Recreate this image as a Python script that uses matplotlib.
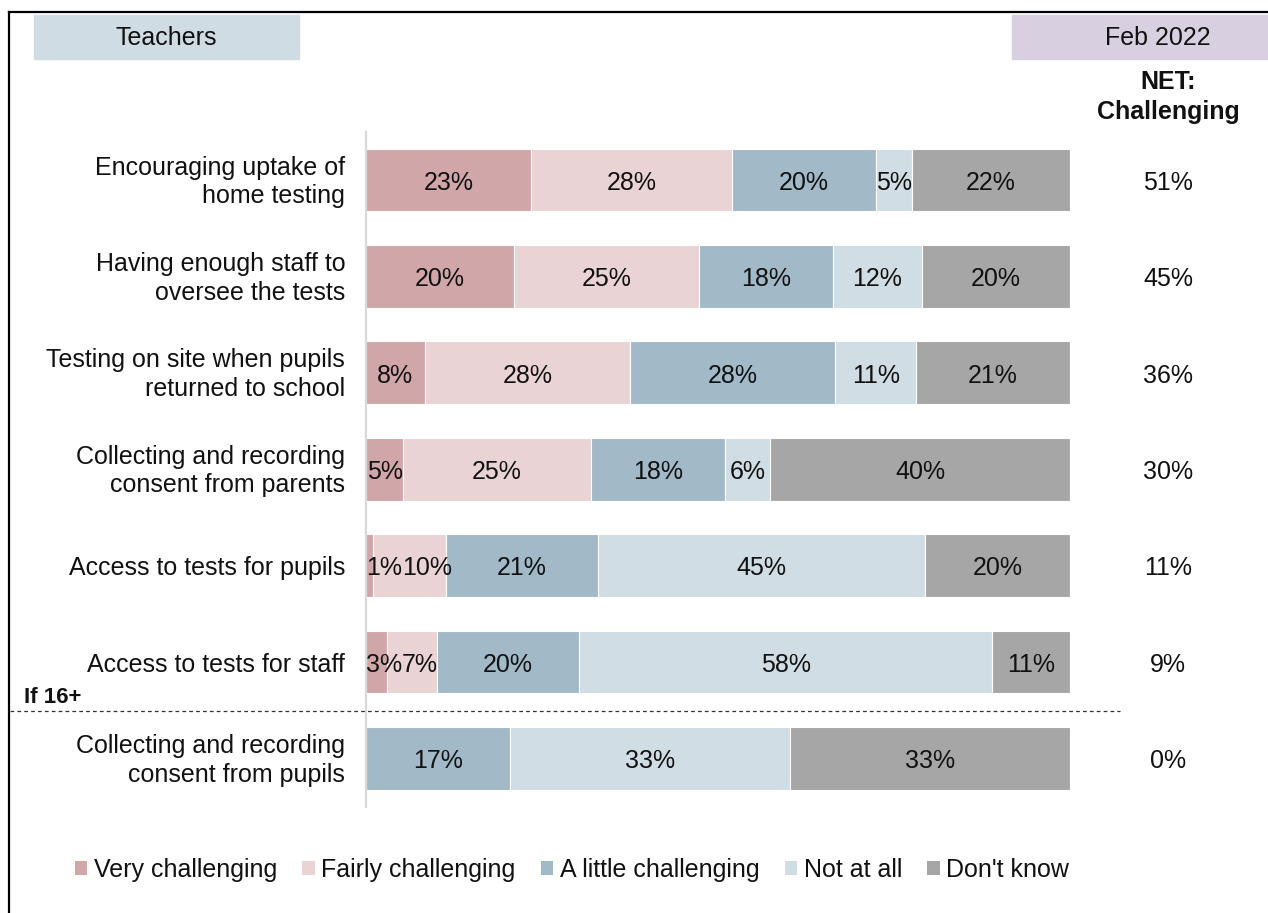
import numpy as np
import matplotlib.pyplot as plt
from matplotlib.patches import Rectangle, Patch
from matplotlib.lines import Line2D
from matplotlib.transforms import blended_transform_factory, ScaledTranslation

plt.rcParams['font.family'] = ['Liberation Sans', 'DejaVu Sans']

# data
questions = ["Encouraging uptake of\nhome testing",
             "Having enough staff to\noversee the tests",
             "Testing on site when pupils\nreturned to school",
             "Collecting and recording\nconsent from parents",
             "Access to tests for pupils",
             "Access to tests for staff",
             "Collecting and recording\nconsent from pupils"]
series = ["Very challenging", "Fairly challenging", "A little challenging",
          "Not at all", "Don't know"]
very_ch   = [23, 20, 8, 5, 1, 3, 0]
fairly_ch = [28, 25, 28, 25, 10, 7, 0]
little_ch = [20, 18, 28, 18, 21, 20, 17]
not_at_all = [5, 12, 11, 6, 45, 58, 33]
dont_know = [22, 20, 21, 40, 20, 11, 33]
net_challenging = [51, 45, 36, 30, 11, 9, 0]

colors = ['#D0A6A8', '#E9D3D5', '#A2B9C8', '#D0DDE4', '#A6A6A6']
txt_col = '#111111'

W, H = 1268, 913
fig = plt.figure(figsize=(W/100, H/100), dpi=100)

# bar area
ax = fig.add_axes([366/W, 1-806.6/H, 704/W, (806.6-131.8)/H])

vals = np.array([very_ch, fairly_ch, little_ch, not_at_all, dont_know], dtype=float)
totals = vals.sum(axis=0)
shares = vals / totals * 100  # bars fill the full width
y = np.arange(len(questions))

ax.set_xlim(0, 100)
ax.set_ylim(6.5, -0.5)

left = np.zeros(len(questions))
labels = [[] for _ in questions]
for i in range(len(series)):
    ax.barh(y, shares[i], left=left, height=0.65, color=colors[i],
            edgecolor='white', linewidth=0.8, label=series[i])
    for j in range(len(questions)):
        if vals[i, j] > 0:
            xc = left[j] + shares[i, j]/2
            t = ax.text(xc, y[j] + 0.03, '%d%%' % vals[i, j], ha='center', va='center',
                        fontsize=18, color=txt_col)
            labels[j].append(t)
    left += shares[i]

# push small labels apart so they sit side by side like in the original
renderer = fig.canvas.get_renderer()
px = 704 / 100.0
for row in labels:
    edge = 0.0
    for t in row:
        w = t.get_window_extent(renderer).width / px
        xc = t.get_position()[0]
        if xc - w/2 < edge:
            xc = edge + w/2
            t.set_x(xc)
        edge = xc + w/2

ax.set_yticks(y)
ax.set_yticklabels(questions, fontsize=18, color=txt_col, linespacing=1.25,
                   multialignment='right')
ax.tick_params(axis='y', length=0, pad=15)
ax.set_xticks([])
up = ScaledTranslation(0, 3/100, fig.dpi_scale_trans)
for lab in ax.get_yticklabels():
    if '\n' in lab.get_text():
        lab.set_transform(lab.get_transform() + up)
for s in ['top', 'right', 'bottom']:
    ax.spines[s].set_visible(False)
ax.spines['left'].set_color('#D9D9D9')
ax.spines['left'].set_linewidth(1.6)

# NET column
tr = blended_transform_factory(fig.transFigure, ax.transData)
for j in range(len(questions)):
    ax.text(1168/W, y[j] + 0.03, '%d%%' % net_challenging[j], transform=tr,
            ha='center', va='center', fontsize=18, color=txt_col)
fig.text(1168/W, 1-97/H, "NET:\nChallenging", ha='center', va='center',
         fontsize=18, fontweight='bold', color=txt_col, linespacing=1.3)

# header boxes
fig.patches.append(Rectangle((34/W, 1-59/H), 265/W, 44/H,
                             transform=fig.transFigure, color='#D0DCE3'))
fig.text(166/W, 1-38/H, "Teachers", ha='center', va='center', fontsize=18,
         color=txt_col)
fig.patches.append(Rectangle((1012/W, 1-59/H), 256/W, 44/H,
                             transform=fig.transFigure, color='#D8D0E0'))
fig.text(1158/W, 1-38/H, "Feb 2022", ha='center', va='center', fontsize=18,
         color=txt_col)

# frame
fig.lines.append(Line2D([9/W, 1], [1-12/H, 1-12/H], transform=fig.transFigure,
                        color='black', linewidth=1.6))
fig.lines.append(Line2D([9/W, 9/W], [1-12/H, 0], transform=fig.transFigure,
                        color='black', linewidth=1.6))

# If 16+ separator
fig.lines.append(Line2D([10/W, 1120/W], [1-711/H, 1-711/H], transform=fig.transFigure,
                        color='#333333', linewidth=0.9, linestyle=(0, (3, 2.5))))
fig.text(24/W, 1-697/H, "If 16+", ha='left', va='center', fontsize=16,
         fontweight='bold', color=txt_col)

# legend
handles = [Patch(facecolor=colors[i], edgecolor='none') for i in range(len(series))]
fig.legend(handles, series, loc='center', bbox_to_anchor=(572/W, 1-870/H), ncol=5,
           frameon=False, fontsize=18, handlelength=0.5, handleheight=0.5,
           handletextpad=0.25, columnspacing=1.02, labelcolor=txt_col)

plt.savefig("out.png", dpi=100)
